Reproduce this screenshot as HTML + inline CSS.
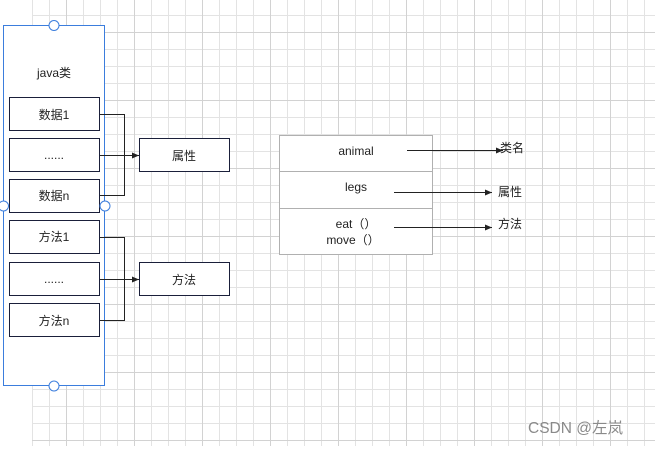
<!DOCTYPE html>
<html><head><meta charset="utf-8"><style>
body{margin:0;width:655px;height:446px;overflow:hidden;background:#fff;font-family:"Liberation Sans","Noto Sans CJK SC",sans-serif;}
</style></head><body>
<svg width="655" height="446" xmlns="http://www.w3.org/2000/svg" font-family="Liberation Sans, Noto Sans CJK SC, sans-serif">
<defs>
<marker id="ar" markerWidth="8" markerHeight="8" refX="7" refY="4" orient="auto" markerUnits="userSpaceOnUse"><path d="M0 1L7 4L0 7z" fill="#222"/></marker>
</defs>
<g stroke="#e3e3e3" stroke-width="1">
<path d="M32.5 0V446M49.5 0V446M83.5 0V446M100.5 0V446M117.5 0V446M151.5 0V446M168.5 0V446M185.5 0V446M219.5 0V446M236.5 0V446M253.5 0V446M287.5 0V446M304.5 0V446M321.5 0V446M355.5 0V446M372.5 0V446M389.5 0V446M423.5 0V446M440.5 0V446M457.5 0V446M491.5 0V446M508.5 0V446M525.5 0V446M559.5 0V446M576.5 0V446M593.5 0V446M627.5 0V446M644.5 0V446"/>
<path d="M32 15.5H655M32 49.5H655M32 66.5H655M32 83.5H655M32 117.5H655M32 134.5H655M32 151.5H655M32 185.5H655M32 202.5H655M32 219.5H655M32 253.5H655M32 270.5H655M32 287.5H655M32 321.5H655M32 338.5H655M32 355.5H655M32 389.5H655M32 406.5H655M32 423.5H655"/>
</g>
<g stroke="#d2d2d2" stroke-width="1">
<path d="M66.5 0V446M134.5 0V446M202.5 0V446M270.5 0V446M338.5 0V446M406.5 0V446M474.5 0V446M542.5 0V446M610.5 0V446"/>
<path d="M32 32.5H655M32 100.5H655M32 168.5H655M32 236.5H655M32 304.5H655M32 372.5H655M32 440.5H655"/>
</g>
<rect x="3.5" y="25.5" width="101" height="360" fill="#fff" stroke="#3b7ddd"/>
<text x="54" y="77" font-size="12" text-anchor="middle" fill="#222">java类</text>
<g fill="#fff" stroke="#1a1f3a">
<rect x="9.5" y="97.5" width="90" height="33"/><rect x="9.5" y="138.5" width="90" height="33"/><rect x="9.5" y="179.5" width="90" height="33"/>
<rect x="9.5" y="220.5" width="90" height="33"/><rect x="9.5" y="262.5" width="90" height="33"/><rect x="9.5" y="303.5" width="90" height="33"/>
<rect x="139.5" y="138.5" width="90" height="33"/><rect x="139.5" y="262.5" width="90" height="33"/>
</g>
<g font-size="12" text-anchor="middle" fill="#222">
<text x="54" y="119">数据1</text><text x="54" y="159">......</text><text x="54" y="200">数据n</text>
<text x="54" y="241">方法1</text><text x="54" y="283">......</text><text x="54" y="325">方法n</text>
<text x="184" y="160">属性</text><text x="184" y="284">方法</text>
</g>
<g stroke="#222" fill="none">
<path d="M100 114.5H124.5V195.5H100"/><path d="M100 155.5H139" marker-end="url(#ar)"/>
<path d="M100 237.5H124.5V320.5H100"/><path d="M100 279.5H139" marker-end="url(#ar)"/>
</g>
<g fill="#fff" stroke="#3b7ddd">
<circle cx="54" cy="25.5" r="5"/><circle cx="54" cy="386" r="5"/><circle cx="3.5" cy="206" r="5"/><circle cx="105" cy="206" r="5"/>
</g>
<rect x="279.5" y="135.5" width="153" height="119" fill="#fff" stroke="#b0b0b0"/>
<path d="M279.5 171.5H432.5M279.5 208.5H432.5" stroke="#b0b0b0"/>
<g font-size="12" text-anchor="middle" fill="#222">
<text x="356" y="155">animal</text><text x="356" y="191">legs</text>
<text x="356" y="228">eat（）</text><text x="353" y="244">move（）</text>
</g>
<g stroke="#222">
<path d="M407 150.5H503" marker-end="url(#ar)"/><path d="M394 192.5H492" marker-end="url(#ar)"/><path d="M394 227.5H492" marker-end="url(#ar)"/>
</g>
<g font-size="12" fill="#222"><text x="500" y="152">类名</text><text x="498" y="196">属性</text><text x="498" y="228">方法</text></g>
<text x="528" y="433" font-size="15.5" fill="#8a8a8a">CSDN @左岚</text>
</svg>
</body></html>
